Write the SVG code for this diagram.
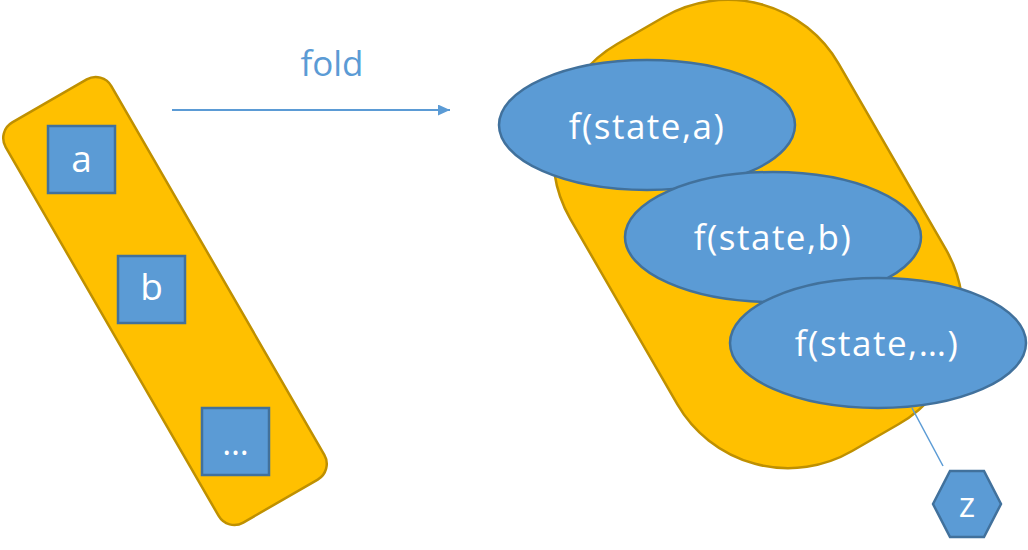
<svg xmlns="http://www.w3.org/2000/svg" width="1028" height="550" viewBox="0 0 1028 550">
<style>
.box{fill:#FFC000;stroke:#BF9000;stroke-width:2.5}
.node{fill:#5B9BD5;stroke:#41719C;stroke-width:2.5}
.lbl{font-family:"Open Sans","Noto Sans",sans-serif;fill:#FFFFFF;text-anchor:middle}
.conn{stroke:#5B9BD5;stroke-width:2;fill:none}
</style>
<defs>
<marker id="arr" markerWidth="12" markerHeight="11" refX="12" refY="5.5" orient="auto" markerUnits="userSpaceOnUse">
<path d="M0,0 L12,5.5 L0,11 Z" fill="#5B9BD5"/>
</marker>
</defs>
<g id="list">
<rect class="box" x="104" y="70" width="122" height="462" rx="18" ry="18" transform="rotate(-30 165 301)"/>
</g>
<g id="node-a">
<rect class="node" x="48" y="126" width="67" height="67"/>
<text class="lbl" x="81.5" y="172" font-size="37">a</text>
</g>
<g id="node-b">
<rect class="node" x="118" y="256" width="67" height="67"/>
<text class="lbl" x="151.5" y="300" font-size="37">b</text>
</g>
<g id="node-dots">
<rect class="node" x="202" y="408" width="67" height="67"/>
<text class="lbl" x="235.5" y="455" font-size="34">…</text>
</g>
<g id="fold-label">
<text x="332" y="76" font-family="Open Sans, Noto Sans, sans-serif" font-size="35" fill="#5B9BD5" text-anchor="middle">fold</text>
</g>
<g id="result-area">
<rect class="box" x="603" y="-1" width="310" height="470" rx="128" ry="128" transform="rotate(-30 758 234)"/>
</g>
<g id="connectors">
<line class="conn" x1="172" y1="110" x2="450" y2="110" marker-end="url(#arr)"/>
<line x1="912" y1="408" x2="943" y2="466" stroke="#5B9BD5" stroke-width="1.5"/>
</g>
<g id="f-a">
<ellipse class="node" cx="647" cy="125" rx="148" ry="65"/>
<text class="lbl" x="647" y="139" font-size="35" letter-spacing="1.5">f(state,a)</text>
</g>
<g id="f-b">
<ellipse class="node" cx="773" cy="237" rx="148" ry="65"/>
<text class="lbl" x="773" y="250" font-size="35" letter-spacing="1.5">f(state,b)</text>
</g>
<g id="f-dots">
<ellipse class="node" cx="878" cy="343" rx="148" ry="65"/>
<text class="lbl" x="877" y="356" font-size="35" letter-spacing="1.5">f(state,…)</text>
</g>
<g id="node-z">
<polygon class="node" points="933,504 950,471 984,471 1001,504 984,537 950,537"/>
<text class="lbl" x="967" y="517" font-size="35">z</text>
</g>
</svg>
